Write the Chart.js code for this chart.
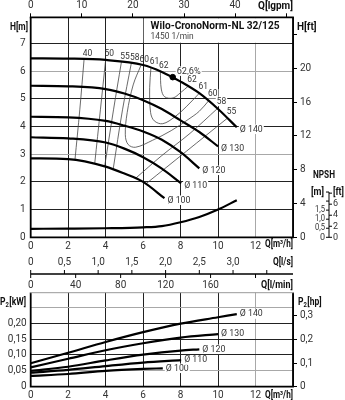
<!DOCTYPE html>
<html>
<head>
<meta charset="utf-8">
<script src="https://cdn.jsdelivr.net/npm/chart.js@4"></script>
<style>
  html, body { margin: 0; padding: 0; background: #fff; }
  #wrap { position: relative; width: 345px; height: 400px; }
  #top { position: absolute; left: 0; top: 0; }
  #bot { position: absolute; left: 0; top: 250px; }
</style>
</head>
<body>
<div id="wrap">
  <canvas id="top" width="345" height="250"></canvas>
  <canvas id="bot" width="345" height="150"></canvas>
</div>
<script>
// ---- data ----
const titleText = 'Wilo-CronoNorm-NL 32/125';
const speedText = '1450 1/min';
const diameters = ['Ø 100', 'Ø 110', 'Ø 120', 'Ø 130', 'Ø 140'];

// Q-H curves (Q in m³/h, H in m)
const q100 = [0, 2, 4, 5, 6, 7.14];
const h100 = [2.85, 2.82, 2.55, 2.3, 2.0, 1.41];
const q110 = [0, 2, 4, 5, 6, 7, 8.03];
const h110 = [3.61, 3.57, 3.42, 3.2, 2.89, 2.48, 1.95];
const q120 = [0, 2, 4, 5, 6, 7, 8, 9];
const h120 = [4.35, 4.33, 4.2, 4.03, 3.82, 3.52, 3.07, 2.49];
const q130 = [0, 2, 4, 5, 6, 7, 8, 9, 10];
const h130 = [5.47, 5.45, 5.35, 5.19, 4.95, 4.63, 4.22, 3.8, 3.28];
const q140 = [0, 2, 4, 6, 7, 8, 9, 10, 11];
const h140 = [6.46, 6.45, 6.4, 6.22, 5.97, 5.62, 5.2, 4.63, 3.97];

// NPSH (m)
const npshQ = [0, 2, 4, 6, 7, 8, 9, 10, 11];
const npshM = [0.47, 0.48, 0.5, 0.55, 0.62, 0.83, 1.12, 1.53, 2.05];

// efficiency iso-lines [Q, H]
const eff40 = [[2.85, 6.43], [2.62, 4.6], [2.36, 2.78]];
const eff50 = [[4.0, 6.4], [3.72, 4.6], [3.42, 2.68]];
const eff55 = [[4.84, 6.32], [4.42, 4.6], [3.95, 2.57]];
const eff58 = [[5.37, 6.28], [4.9, 4.6], [4.4, 2.45]];
const eff60 = [[5.88, 6.2], [5.47, 5.5], [5.15, 4.5], [5.05, 3.7], [5.2, 3.35], [5.6, 3.25], [6.5, 3.5], [7.5, 3.85], [8.4, 4.25], [9.0, 4.55], [9.5, 4.93]];
const eff61 = [[6.42, 6.12], [6.35, 5.4], [6.4, 4.5], [6.6, 4.2], [7.05, 4.1], [7.7, 4.35], [8.3, 4.71], [9.0, 5.2]];
const eff62 = [[6.92, 5.99], [6.97, 5.35], [7.15, 5.07], [7.6, 5.03], [8.0, 5.22], [8.4, 5.45]];
const eff58r = [[9.97, 4.65], [8.5, 3.75], [7.0, 2.95], [5.6, 2.13]];
const eff55r = [[10.5, 4.3], [8.3, 3.1], [6.15, 1.93]];
const bestPoint = [7.58, 5.78];
const bestText = '62,6%';

// P2 curves (kW)
const p100Q = [0, 2, 4, 6, 7.05];
const p100 = [0.034, 0.040, 0.050, 0.056, 0.058];
const p110Q = [0, 2, 4, 6, 8.03];
const p110 = [0.044, 0.053, 0.065, 0.076, 0.084];
const p120Q = [0, 2, 4, 6, 8, 9];
const p120 = [0.050, 0.063, 0.083, 0.101, 0.114, 0.118];
const p130Q = [0, 2, 4, 6, 8, 10];
const p130 = [0.061, 0.088, 0.115, 0.137, 0.155, 0.166];
const p140Q = [0, 2, 4, 6, 8, 10, 11];
const p140 = [0.074, 0.107, 0.141, 0.172, 0.199, 0.219, 0.229];

// secondary axes ticks
const lsTicks = [0, 0.5, 1, 1.5, 2, 2.5, 3, 3.5];
const lsLabels = ['0', '0,5', '1,0', '1,5', '2,0', '2,5', '3,0', ''];
const lminTicks = [0, 40, 80, 120, 160, 200];
const lminLabels = ['0', '40', '80', '120', '160', ''];
const npshMTicks = [0, 0.5, 1, 1.5, 2, 2.5];
const npshMLabels = ['0', '0,5', '1,0', '1,5', '', ''];
const npshFtTicks = [0, 2, 4, 6, 8];
const npshFtLabels = ['0', '2', '4', '6', ''];

// unit conversions to m³/h, m, kW
const IGPM = 0.272765, LS = 3.6, LMIN = 0.06, FT = 0.3048, HP = 0.7457;

const FONT = "Roboto,'Liberation Sans',sans-serif";
const GRID = '#222', GRID_LIGHT = '#a8a8a8';

function pts(qs, vs) { return qs.map((q, i) => ({ x: q, y: vs[i] })); }

// text helper; o.w squeezes the text horizontally to that width
function label(ctx, s, x, y, o = {}) {
    const size = o.size || 10;
    ctx.save();
    ctx.font = (o.bold ? 'bold ' : '') + size + 'px ' + FONT;
    ctx.textBaseline = 'middle';
    ctx.textAlign = 'left';
    const mw = ctx.measureText(s).width;
    const sx = o.w ? Math.min(1, o.w / mw) : 1;
    const w = mw * sx;
    const align = o.align || 'left';
    const x0 = align === 'left' ? x : (align === 'right' ? x - w : x - w / 2);
    if (o.bg) {
        ctx.fillStyle = '#fff';
        ctx.fillRect(x0 - 1, y - size / 2, w + 2, size);
    }
    ctx.fillStyle = o.color || '#333';
    ctx.translate(x0, y);
    ctx.scale(sx, 1);
    ctx.fillText(s, 0, 0);
    ctx.restore();
}

function title(ctx, s, x, y, w, align) {
    label(ctx, s, x, y, { bold: true, color: '#111', w: w, align: align || 'left' });
}

// "P2[kW]" with subscript
function subLabel(ctx, x, y, unit) {
    ctx.save();
    ctx.textBaseline = 'middle';
    ctx.fillStyle = '#111';
    ctx.translate(x, y);
    ctx.scale(0.85, 1);
    ctx.font = 'bold 10px ' + FONT;
    ctx.fillText('P', 0, 0);
    let w = ctx.measureText('P').width;
    ctx.font = 'bold 7px ' + FONT;
    ctx.fillText('2', w, 3);
    w += ctx.measureText('2').width + 0.5;
    ctx.font = 'bold 10px ' + FONT;
    ctx.fillText(unit, w, 0);
    ctx.restore();
}

function tickFont() { return { family: FONT, size: 10 }; }

function frame(ctx, a, topColor) {
    ctx.save();
    ctx.strokeStyle = '#000';
    ctx.lineWidth = 1.8;
    ctx.beginPath();
    ctx.moveTo(a.left, a.top); ctx.lineTo(a.left, a.bottom);
    ctx.lineTo(a.right, a.bottom); ctx.lineTo(a.right, a.top);
    ctx.stroke();
    ctx.strokeStyle = topColor;
    ctx.lineWidth = topColor === '#000' ? 1.8 : 1;
    ctx.beginPath();
    ctx.moveTo(a.left - 0.9, a.top); ctx.lineTo(a.right + 0.9, a.top);
    ctx.stroke();
    ctx.restore();
}

// ---- top chart: Q-H ----
const HMAX = 7.94, NPSHMAX = 12.15;

const qhSets = [[q100, h100], [q110, h110], [q120, h120], [q130, h130], [q140, h140]];
const effLines = [
    { pts: eff40, first: '40' },
    { pts: eff50, first: '50' },
    { pts: eff55, first: '55' },
    { pts: eff58, first: '58' },
    { pts: eff60, first: '60', last: '60' },
    { pts: eff61, first: '61', last: '61' },
    { pts: eff62, first: '62', last: '62' },
    { pts: eff58r, first: '58', right: true },
    { pts: eff55r, first: '55', right: true }
];

const topSets = [];
qhSets.forEach((c, i) => topSets.push({
    data: pts(c[0], c[1]), borderColor: '#000', borderWidth: 2.2, pointRadius: 0,
    cubicInterpolationMode: 'monotone', yAxisID: 'y', endLabel: diameters[i]
}));
topSets.push({
    data: pts(npshQ, npshM), borderColor: '#000', borderWidth: 2.2, pointRadius: 0,
    cubicInterpolationMode: 'monotone', yAxisID: 'ynpsh'
});
topSets.push({
    data: [{ x: bestPoint[0], y: bestPoint[1] }], showLine: false, pointRadius: 2.8,
    pointBackgroundColor: '#000', borderColor: '#000', yAxisID: 'y', bestLabel: bestText
});
effLines.forEach(e => topSets.push({
    data: e.pts.map(p => ({ x: p[0], y: p[1] })), borderColor: '#444', borderWidth: 0.8,
    pointRadius: 0, tension: 0.35, yAxisID: 'y', eff: e
}));

const topDeco = {
    id: 'topDeco',
    beforeDatasetsDraw(chart) {
        const { ctx, chartArea: a, scales: { x, y } } = chart;
        // title cell above H=7, right of Q=6
        const bx = x.getPixelForValue(6), by = y.getPixelForValue(7);
        ctx.fillStyle = '#fff';
        ctx.fillRect(bx + 0.6, a.top + 0.9, a.right - bx - 1.5, by - a.top - 1.5);
        label(ctx, titleText, bx + 7.5, a.top + 9, { size: 11.5, bold: true, color: '#111', w: 129 });
        label(ctx, speedText, bx + 7.5, a.top + 19.5, { size: 9.5, color: '#444', w: 43 });

        chart.data.datasets.forEach((ds, i) => {
            const el = chart.getDatasetMeta(i).data;
            if (ds.endLabel) {
                const p = el[el.length - 1];
                label(ctx, ds.endLabel, p.x + 3, p.y + 2, { bg: true, size: 9.5, w: 23 });
            }
            if (ds.bestLabel) {
                label(ctx, ds.bestLabel, el[0].x + 4, el[0].y - 6, { bg: true, size: 9.5, w: 24 });
            }
            if (ds.eff) {
                const f = el[0], l = el[el.length - 1];
                if (ds.eff.right) label(ctx, ds.eff.first, f.x + 4, f.y - 7, { align: 'center', bg: true, size: 9.5, w: 9.5 });
                else label(ctx, ds.eff.first, f.x + 3.5, f.y - 6, { align: 'center', size: 9.5, w: 9.5 });
                if (ds.eff.last) label(ctx, ds.eff.last, l.x + 4, l.y - 7, { align: 'center', bg: true, size: 9.5, w: 9.5 });
            }
        });
    },
    afterDatasetsDraw(chart) {
        frame(chart.ctx, chart.chartArea, '#000');
    },
    afterDraw(chart) {
        const { ctx, chartArea: a, scales: { ynpsh } } = chart;
        title(ctx, 'H[m]', 28, 27, 18, 'right');
        title(ctx, 'H[ft]', 297, 27, 20);
        title(ctx, 'Q[lgpm]', a.right, 6, 35, 'right');
        title(ctx, 'Q[m³/h]', a.right, 244, 28, 'right');

        // NPSH mini axis
        const ax = 329;
        const y0 = ynpsh.getPixelForValue(0), y1 = ynpsh.getPixelForValue(2.5);
        ctx.save();
        ctx.strokeStyle = '#000';
        ctx.lineWidth = 1;
        ctx.beginPath(); ctx.moveTo(ax, y0); ctx.lineTo(ax, y1); ctx.stroke();
        npshMTicks.forEach((v, i) => {
            const py = ynpsh.getPixelForValue(v);
            ctx.beginPath(); ctx.moveTo(ax - 3, py); ctx.lineTo(ax, py); ctx.stroke();
            if (npshMLabels[i]) label(ctx, npshMLabels[i], ax - 4, py, { align: 'right', size: 9, w: 10 });
        });
        npshFtTicks.forEach((v, i) => {
            const py = ynpsh.getPixelForValue(v * FT);
            ctx.beginPath(); ctx.moveTo(ax, py); ctx.lineTo(ax + 3, py); ctx.stroke();
            if (npshFtLabels[i]) label(ctx, npshFtLabels[i], ax + 4, py, { size: 9 });
        });
        ctx.restore();
        title(ctx, '[m]', ax - 5, y1, 13, 'right');
        title(ctx, '[ft]', ax + 4, y1, 11);
        title(ctx, 'NPSH', ax - 5, y1 - 17, 22, 'center');
    }
};

new Chart(document.getElementById('top'), {
    type: 'line',
    data: { datasets: topSets },
    options: {
        responsive: false,
        animation: false,
        events: [],
        layout: { padding: 0 },
        plugins: { legend: { display: false }, tooltip: { enabled: false } },
        scales: {
            x: {
                type: 'linear', position: 'bottom', min: 0, max: 14,
                afterFit(s) { s.height = 12.7; },
                ticks: { stepSize: 2, color: '#333', font: tickFont(), padding: 3, maxRotation: 0, autoSkip: false,
                         callback: v => v === 14 ? '' : String(v) },
                grid: { color: c => c.tick && c.tick.value === 12 ? GRID_LIGHT : GRID, lineWidth: 1, drawTicks: false },
                border: { display: false }
            },
            xg: {
                type: 'linear', position: 'top', min: 0, max: 14 / IGPM,
                afterFit(s) { s.height = 17.3; },
                ticks: { stepSize: 10, includeBounds: false, color: '#333', font: tickFont(), padding: 2, maxRotation: 0,
                         callback: v => v === 50 ? '' : String(v) },
                grid: { drawOnChartArea: false, tickLength: 4, color: '#000', lineWidth: 1 },
                border: { display: false }
            },
            y: {
                type: 'linear', position: 'left', min: 0, max: HMAX,
                afterFit(s) { s.width = 30.7; },
                ticks: { stepSize: 1, includeBounds: false, color: '#333', font: tickFont(), padding: 5 },
                grid: { color: c => c.tick && (c.tick.value === 3 || c.tick.value === 6) ? GRID_LIGHT : GRID, lineWidth: 1, drawTicks: false },
                border: { display: false }
            },
            yft: {
                type: 'linear', position: 'right', min: 0, max: HMAX / FT,
                afterFit(s) { s.width = 52; },
                ticks: { stepSize: 4, includeBounds: false, color: '#333', font: tickFont(), padding: 3,
                         callback: v => v === 24 ? '' : String(v) },
                grid: { drawOnChartArea: false, tickLength: 4, color: '#000', lineWidth: 1 },
                border: { display: false }
            },
            ynpsh: { type: 'linear', display: false, min: 0, max: NPSHMAX }
        }
    },
    plugins: [topDeco]
});

// ---- bottom chart: P2 ----
const PMAX = 0.2965;
const p2Sets = [[p100Q, p100], [p110Q, p110], [p120Q, p120], [p130Q, p130], [p140Q, p140]];

const botDeco = {
    id: 'botDeco',
    beforeDatasetsDraw(chart) {
        const { ctx } = chart;
        chart.data.datasets.forEach((ds, i) => {
            const el = chart.getDatasetMeta(i).data;
            const p = el[el.length - 1];
            label(ctx, ds.endLabel, p.x + 3, p.y, { bg: true, size: 9.5, w: 23 });
        });
    },
    afterDatasetsDraw(chart) {
        frame(chart.ctx, chart.chartArea, '#999');
    },
    afterDraw(chart) {
        const { ctx, chartArea: a, scales: { x } } = chart;
        const ly = 24;
        ctx.save();
        ctx.strokeStyle = '#000';
        ctx.lineWidth = 1.3;
        ctx.beginPath(); ctx.moveTo(a.left, ly); ctx.lineTo(a.right, ly); ctx.stroke();
        ctx.lineWidth = 1;
        lsTicks.forEach((v, i) => {
            const px = x.getPixelForValue(v * LS);
            ctx.beginPath(); ctx.moveTo(px, ly - 4); ctx.lineTo(px, ly); ctx.stroke();
            if (lsLabels[i]) label(ctx, lsLabels[i], px, 12.7, { align: 'center' });
        });
        lminTicks.forEach((v, i) => {
            const px = x.getPixelForValue(v * LMIN);
            ctx.beginPath(); ctx.moveTo(px, ly); ctx.lineTo(px, ly + 4); ctx.stroke();
            if (lminLabels[i]) label(ctx, lminLabels[i], px, 35, { align: 'center' });
        });
        ctx.restore();
        title(ctx, 'Q[l/s]', a.right, 12.7, 20, 'right');
        title(ctx, 'Q[l/min]', a.right, 35, 32, 'right');
        title(ctx, 'Q[m³/h]', a.right, 145, 28, 'right');
        subLabel(ctx, 0, 52, '[kW]');
        subLabel(ctx, 298, 52, '[hp]');
    }
};

new Chart(document.getElementById('bot'), {
    type: 'line',
    data: {
        datasets: p2Sets.map((c, i) => ({
            data: pts(c[0], c[1]), borderColor: '#000', borderWidth: 2.2, pointRadius: 0,
            cubicInterpolationMode: 'monotone', endLabel: diameters[i]
        }))
    },
    options: {
        responsive: false,
        animation: false,
        events: [],
        layout: { padding: { top: 42.7 } },
        plugins: { legend: { display: false }, tooltip: { enabled: false } },
        scales: {
            x: {
                type: 'linear', position: 'bottom', min: 0, max: 14,
                afterFit(s) { s.height = 13.3; },
                ticks: { stepSize: 2, color: '#333', font: tickFont(), padding: 3, maxRotation: 0, autoSkip: false,
                         callback: v => v === 14 ? '' : String(v) },
                grid: { color: c => c.tick && c.tick.value === 12 ? GRID_LIGHT : GRID, lineWidth: 1, drawTicks: false },
                border: { display: false }
            },
            y: {
                type: 'linear', position: 'left', min: 0, max: PMAX,
                afterFit(s) { s.width = 30.7; },
                ticks: { stepSize: 0.05, includeBounds: false, color: '#333', font: tickFont(), padding: 4,
                         callback: v => v === 0 ? '0' : (Math.abs(v - 0.25) < 1e-6 ? '' : v.toFixed(2).replace('.', ',')) },
                grid: { color: c => c.tick && (Math.abs(c.tick.value - 0.05) < 1e-6 || Math.abs(c.tick.value - 0.25) < 1e-6) ? GRID_LIGHT : GRID,
                        lineWidth: 1, drawTicks: false },
                border: { display: false }
            },
            yhp: {
                type: 'linear', position: 'right', min: 0, max: PMAX / HP,
                afterFit(s) { s.width = 52; },
                ticks: { stepSize: 0.1, includeBounds: false, color: '#333', font: tickFont(), padding: 3,
                         callback: v => v === 0 ? '0' : v.toFixed(1).replace('.', ',') },
                grid: { drawOnChartArea: false, tickLength: 4, color: '#000', lineWidth: 1 },
                border: { display: false }
            }
        }
    },
    plugins: [botDeco]
});
</script>
</body>
</html>
